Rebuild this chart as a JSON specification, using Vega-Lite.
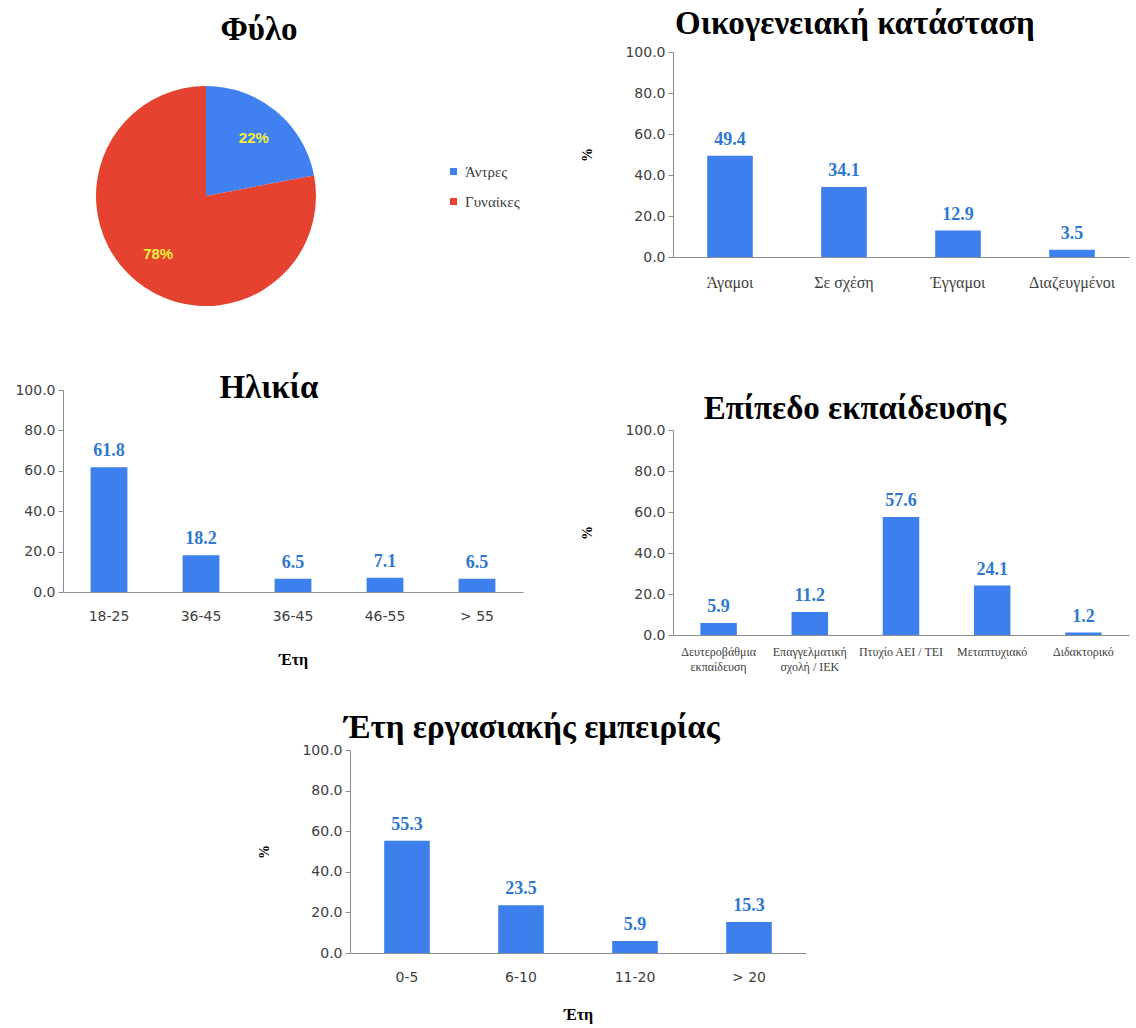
{
  "$schema": "https://vega.github.io/schema/vega-lite/v6.json",
  "padding": {"left": 14, "top": 8, "right": 2, "bottom": 2},
  "background": "white",
  "config": {
    "view": {"stroke": null},
    "axis": {"grid": false, "domainColor": "#8c8c8c", "tickColor": "#8c8c8c", "labelColor": "#404040", "titleColor": "#000000"},
    "axisY": {"labelFont": "DejaVu Sans", "labelFontSize": 14, "tickSize": 5, "labelPadding": 3, "titleFont": "Liberation Serif", "titleFontWeight": "bold", "titleFontSize": 14, "titlePadding": 30},
    "axisX": {"ticks": false, "labelAngle": 0, "labelPadding": 17, "labelOverlap": false, "titleFont": "Liberation Serif", "titleFontWeight": "bold", "titleFontSize": 16, "titlePadding": 28},
    "title": {"font": "Liberation Serif", "fontWeight": "bold", "fontSize": 33, "color": "#000000", "anchor": "middle", "frame": "bounds"}
  },
  "spacing": 40,
  "vconcat": [
    {
      "spacing": 57,
      "hconcat": [
        {
          "spacing": 32,
          "vconcat": [
            {
              "title": {"text": "Φύλο", "offset": 5, "frame": "group", "dx": 53},
              "width": 286,
              "height": 288,
              "data": {"values": [
                {"sex": "Άντρες", "pct": 22, "label": "22%"},
                {"sex": "Γυναίκες", "pct": 78, "label": "78%"}
              ]},
              "encoding": {
                "theta": {"field": "pct", "type": "quantitative", "stack": true},
                "order": {"field": "pct", "type": "quantitative", "sort": "ascending"}
              },
              "layer": [
                {
                  "mark": {"type": "arc", "outerRadius": 110},
                  "encoding": {
                    "color": {"field": "sex", "type": "nominal",
                      "scale": {"domain": ["Άντρες", "Γυναίκες"], "range": ["#4080F0", "#E5432F"]},
                      "legend": {"title": null, "orient": "none", "legendX": 383, "legendY": 112, "symbolType": "square", "symbolSize": 50, "labelFont": "Liberation Serif", "labelFontSize": 15, "labelColor": "#404040", "rowPadding": 14, "labelOffset": 4}
                    }
                  }
                },
                {
                  "mark": {"type": "text", "radius": 75, "font": "Liberation Sans", "fontWeight": "bold", "fontSize": 15, "color": "#F2F03A"},
                  "encoding": {
                    "text": {"field": "label", "type": "nominal"},
                    "detail": {"field": "sex", "type": "nominal"}
                  }
                }
              ]
            },
            {
              "title": {"text": "Ηλικία", "offset": -22},
              "width": 460,
              "height": 202,
              "data": {"values": [
                {"age": "18-25", "pct": 61.8},
                {"age": "36-45 ", "pct": 18.2},
                {"age": "36-45", "pct": 6.5},
                {"age": "46-55", "pct": 7.1},
                {"age": "> 55", "pct": 6.5}
              ]},
              "encoding": {
                "x": {"field": "age", "type": "nominal", "sort": null,
                  "scale": {"paddingInner": 0.6, "paddingOuter": 0.3},
                  "axis": {"title": "Έτη", "labelFont": "DejaVu Sans", "labelFontSize": 14}},
                "y": {"field": "pct", "type": "quantitative", "scale": {"domain": [0, 100]},
                  "axis": {"title": null, "values": [0, 20, 40, 60, 80, 100], "format": ".1f"}}
              },
              "layer": [
                {"mark": {"type": "bar", "color": "#3D7FEC"}},
                {"mark": {"type": "text", "baseline": "bottom", "dy": -7, "font": "Liberation Serif", "fontWeight": "bold", "fontSize": 18, "color": "#2F78D0"},
                 "encoding": {"text": {"field": "pct", "type": "quantitative", "format": ".1f"}}}
              ]
            }
          ]
        },
        {
          "spacing": 103,
          "vconcat": [
            {
              "title": {"text": "Οικογενειακή κατάσταση", "offset": 4},
              "width": 456,
              "height": 205,
              "data": {"values": [
                {"status": "Άγαμοι", "pct": 49.4},
                {"status": "Σε σχέση", "pct": 34.1},
                {"status": "Έγγαμοι", "pct": 12.9},
                {"status": "Διαζευγμένοι", "pct": 3.5}
              ]},
              "encoding": {
                "x": {"field": "status", "type": "nominal", "sort": null,
                  "scale": {"paddingInner": 0.6, "paddingOuter": 0.3},
                  "axis": {"title": null, "labelFont": "Liberation Serif", "labelFontSize": 16}},
                "y": {"field": "pct", "type": "quantitative", "scale": {"domain": [0, 100]},
                  "axis": {"title": "%", "values": [0, 20, 40, 60, 80, 100], "format": ".1f"}}
              },
              "layer": [
                {"mark": {"type": "bar", "color": "#3D7FEC"}},
                {"mark": {"type": "text", "baseline": "bottom", "dy": -7, "font": "Liberation Serif", "fontWeight": "bold", "fontSize": 18, "color": "#2F78D0"},
                 "encoding": {"text": {"field": "pct", "type": "quantitative", "format": ".1f"}}}
              ]
            },
            {
              "title": {"text": "Επίπεδο εκπαίδευσης", "offset": -3},
              "width": 456,
              "height": 205,
              "data": {"values": [
                {"edu": "Δευτεροβάθμια εκπαίδευση", "pct": 5.9},
                {"edu": "Επαγγελματική σχολή / ΙΕΚ", "pct": 11.2},
                {"edu": "Πτυχίο ΑΕΙ / ΤΕΙ", "pct": 57.6},
                {"edu": "Μεταπτυχιακό", "pct": 24.1},
                {"edu": "Διδακτορικό", "pct": 1.2}
              ]},
              "encoding": {
                "x": {"field": "edu", "type": "nominal", "sort": null,
                  "scale": {"paddingInner": 0.6, "paddingOuter": 0.3},
                  "axis": {"title": null, "labelFont": "Liberation Serif", "labelFontSize": 12, "labelLineHeight": 15, "labelPadding": 11,
                    "labelExpr": "datum.value == 'Δευτεροβάθμια εκπαίδευση' ? ['Δευτεροβάθμια', 'εκπαίδευση'] : datum.value == 'Επαγγελματική σχολή / ΙΕΚ' ? ['Επαγγελματική', 'σχολή / ΙΕΚ'] : datum.value"}},
                "y": {"field": "pct", "type": "quantitative", "scale": {"domain": [0, 100]},
                  "axis": {"title": "%", "values": [0, 20, 40, 60, 80, 100], "format": ".1f"}}
              },
              "layer": [
                {"mark": {"type": "bar", "color": "#3D7FEC"}},
                {"mark": {"type": "text", "baseline": "bottom", "dy": -7, "font": "Liberation Serif", "fontWeight": "bold", "fontSize": 18, "color": "#2F78D0"},
                 "encoding": {"text": {"field": "pct", "type": "quantitative", "format": ".1f"}}}
              ]
            }
          ]
        }
      ]
    },
    {
      "spacing": 0,
      "hconcat": [
        {
          "width": 194,
          "height": 10,
          "data": {"values": []},
          "mark": "point",
          "encoding": {}
        },
        {
          "title": {"text": "Έτη εργασιακής εμπειρίας", "offset": -2},
          "width": 456,
          "height": 203,
          "data": {"values": [
            {"years": "0-5", "pct": 55.3},
            {"years": "6-10", "pct": 23.5},
            {"years": "11-20", "pct": 5.9},
            {"years": "> 20", "pct": 15.3}
          ]},
          "encoding": {
            "x": {"field": "years", "type": "nominal", "sort": null,
              "scale": {"paddingInner": 0.6, "paddingOuter": 0.3},
              "axis": {"title": "Έτη", "titlePadding": 22, "labelFont": "DejaVu Sans", "labelFontSize": 14}},
            "y": {"field": "pct", "type": "quantitative", "scale": {"domain": [0, 100]},
              "axis": {"title": "%", "values": [0, 20, 40, 60, 80, 100], "format": ".1f"}}
          },
          "layer": [
            {"mark": {"type": "bar", "color": "#3D7FEC"}},
            {"mark": {"type": "text", "baseline": "bottom", "dy": -7, "font": "Liberation Serif", "fontWeight": "bold", "fontSize": 18, "color": "#2F78D0"},
             "encoding": {"text": {"field": "pct", "type": "quantitative", "format": ".1f"}}}
          ]
        }
      ]
    }
  ]
}
